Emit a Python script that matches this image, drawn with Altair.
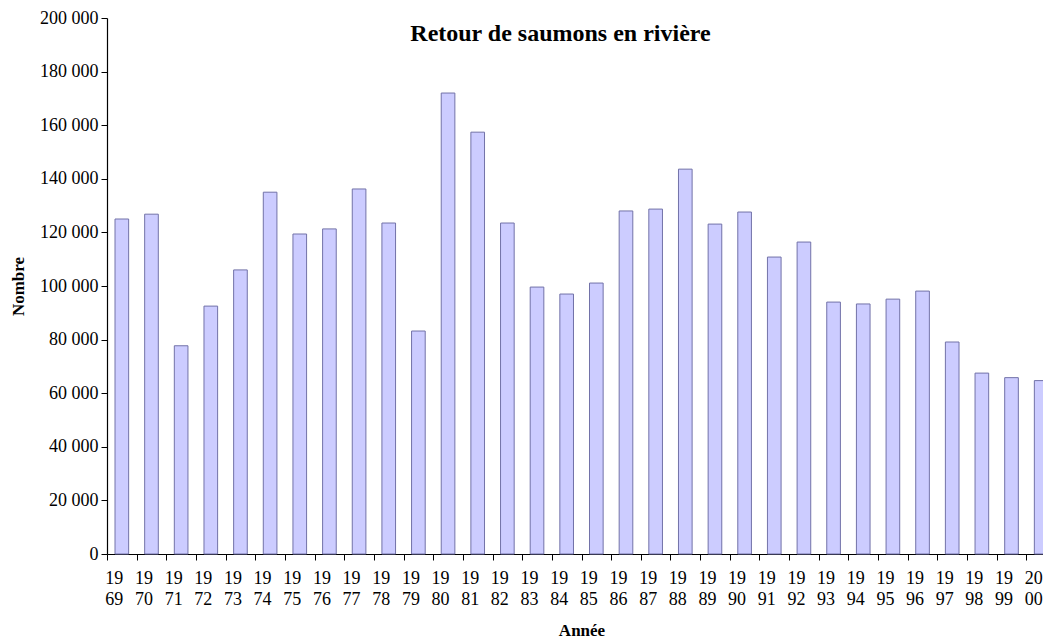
import altair as alt
import pandas as pd

years = [str(y) for y in range(1969, 2001)]
values = [125000, 126800, 77700, 92500, 106000, 135000, 119400, 121300,
          136200, 123500, 83200, 172000, 157400, 123500, 99600, 97000,
          101100, 128000, 128700, 143600, 123100, 127600, 110800, 116400,
          94000, 93300, 95100, 98100, 79100, 67500, 65800, 64700]
y_ticks = [0, 20000, 40000, 60000, 80000, 100000, 120000, 140000, 160000, 180000, 200000]

df = pd.DataFrame({"Année": years, "Nombre": values})

FONT = "Liberation Serif"

chart = alt.Chart(df).mark_bar(
    fill="#ccccff", stroke="#7272a8", strokeWidth=1,
    width=alt.RelativeBandSize(0.46)
).encode(
    x=alt.X("Année:N", sort=years,
            scale=alt.Scale(paddingInner=0, paddingOuter=0),
            axis=alt.Axis(title="Année", labelAngle=0, tickBand="extent",
                          labelExpr="[substring(datum.label,0,2), substring(datum.label,2,4)]",
                          labelLineHeight=21, labelPadding=9, labelOffset=-8,
                          titlePadding=14)),
    y=alt.Y("Nombre:Q", scale=alt.Scale(domain=[0, 200000], nice=False),
            axis=alt.Axis(title="Nombre", values=y_ticks,
                          labelExpr="replace(format(datum.value, ',d'), ',', ' ')",
                          labelPadding=3, titlePadding=12)),
).properties(
    width=949, height=536,
    title=alt.TitleParams("Retour de saumons en rivière", font=FONT, fontSize=24,
                          fontWeight="bold", anchor="middle", offset=0, dy=37, dx=-21,
                          color="black"),
    autosize=alt.AutoSizeParams(type="none"),
    padding={"left": 99, "top": 10, "right": -13, "bottom": 85},
).configure_view(stroke=None).configure_axis(
    labelFont=FONT, titleFont=FONT, labelFontSize=18, titleFontSize=17,
    titleFontWeight="bold", labelColor="black", titleColor="black",
    domainColor="black", tickColor="black", tickSize=6, grid=False,
    domainWidth=1.2,
)

chart.save("out.html", embed_options={"renderer": "svg", "actions": False})
